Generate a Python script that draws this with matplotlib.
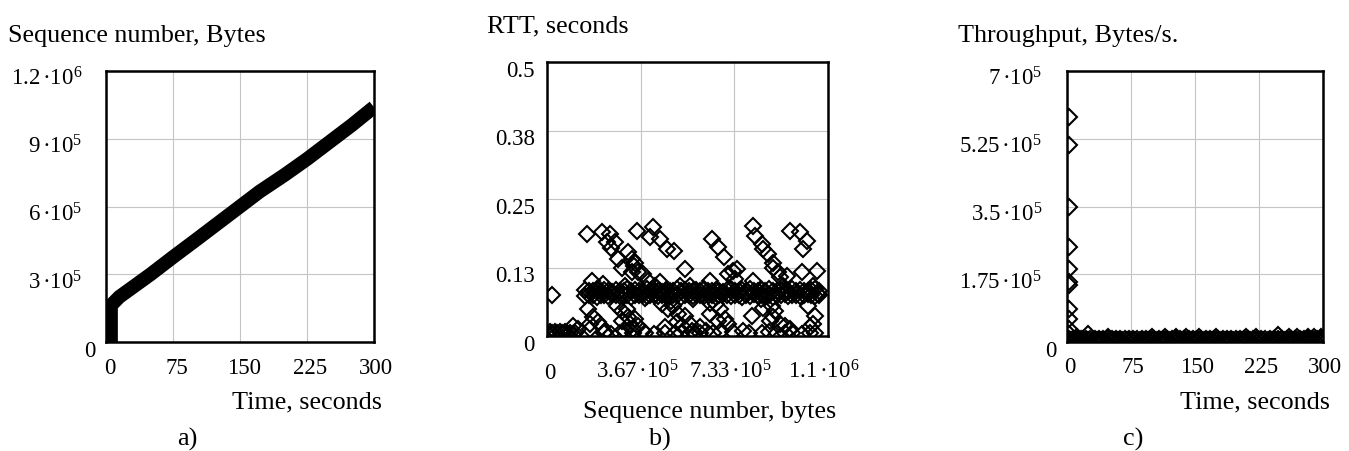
import numpy as np
import matplotlib
matplotlib.use("Agg")
from matplotlib import pyplot as plt

plt.rcParams['font.family'] = ['Liberation Serif', 'DejaVu Serif']
plt.rcParams['mathtext.fontset'] = 'custom'
plt.rcParams['mathtext.rm'] = 'Liberation Serif'
plt.rcParams['mathtext.it'] = 'Liberation Serif:italic'
plt.rcParams['mathtext.bf'] = 'Liberation Serif:bold'

# ---- a) sequence number vs time ----
time_a = [5.5, 5.5, 15, 50, 75, 100, 125, 150, 172, 200, 225, 250, 275, 300]
seq_a = [-5e4, 1.62e5, 2.0e5, 3.0e5, 3.76e5, 4.5e5, 5.25e5, 6.0e5, 6.66e5, 7.4e5, 8.1e5,
         8.85e5, 9.6e5, 1.04e6]

# ---- b) RTT vs sequence number (x in kB) ----
spr_x = [155, 214, 247, 234, 266, 279, 318, 332, 292, 175, 220, 18, 162, 181, 168, 201,
         214, 227, 273, 292, 312, 318, 292, 325, 305, 338, 103, 168, 252, 304, 339, 334,
         351, 416, 442, 403, 469, 498, 540, 645, 668, 694, 710, 729, 345, 357, 377, 397,
         423, 449, 475, 495, 514, 540, 508, 527, 560, 462, 567, 599, 638, 677, 671, 697,
         710, 345, 357, 377, 382, 441, 487, 519, 559, 572, 637, 637, 663, 735,
         808, 814, 841, 847, 866, 886, 886, 906, 912, 938, 951, 990, 1017, 1003, 743, 997,
         1056, 808, 1043, 1062, 1023, 1049, 1043, 1030, 847, 880, 893, 886, 801, 873, 912,
         932, 951, 924, 839]
spr_y = [0.186, 0.190, 0.186, 0.171, 0.171, 0.141, 0.153, 0.141, 0.125, 0.101, 0.095, 0.074,
         0.049, 0.034, 0.022, 0.025, 0.016, 0.007, 0.055, 0.046, 0.049, 0.034, 0.028, 0.022,
         0.010, 0.013, 0.019, 0.013, 0.160, 0.091, 0.128, 0.116,
         0.192, 0.198, 0.177, 0.180, 0.159, 0.156, 0.122, 0.177, 0.162, 0.144, 0.113, 0.119,
         0.134, 0.116, 0.113, 0.101, 0.092, 0.058, 0.049, 0.055, 0.040, 0.037, 0.025, 0.019,
         0.022, 0.016, 0.010, 0.016, 0.040, 0.049, 0.028, 0.031, 0.022, 0.031, 0.019, 0.010,
         0.070, 0.098, 0.064, 0.091, 0.091, 0.067, 0.101, 0.061, 0.058, 0.104,
         0.201, 0.183, 0.168, 0.159, 0.150, 0.134, 0.125, 0.116, 0.107, 0.110, 0.192, 0.189,
         0.174, 0.159, 0.122, 0.116, 0.119, 0.101, 0.092, 0.077, 0.055, 0.037, 0.022, 0.016,
         0.052, 0.055, 0.046, 0.034, 0.037, 0.028, 0.022, 0.019, 0.013, 0.091, 0.067]

band_x = [150, 165, 180, 195, 210, 225, 240, 255, 270, 285, 300, 315, 330, 345, 360, 375,
          390, 405, 420, 435, 450, 465, 480, 495, 510, 525, 540, 555, 570, 585, 600, 615,
          630, 645, 660, 675, 690, 705, 720, 735, 750, 765, 780, 795, 810, 825, 840, 855,
          870, 885, 900, 915, 930, 945, 960, 975, 990, 1005, 1020, 1035, 1050, 1065]
band_lo = [0.073, 0.075, 0.074, 0.072, 0.075, 0.074, 0.073, 0.076, 0.074, 0.073,
           0.075, 0.074, 0.072, 0.075, 0.074, 0.076, 0.073, 0.074, 0.075, 0.073,
           0.074, 0.076, 0.073, 0.075, 0.074, 0.072, 0.075, 0.074, 0.073, 0.076,
           0.074, 0.073, 0.075, 0.074, 0.072, 0.075, 0.076, 0.074, 0.073, 0.075,
           0.074, 0.072, 0.075, 0.073, 0.076, 0.074, 0.075, 0.073, 0.074, 0.072,
           0.075, 0.074, 0.076, 0.073, 0.074, 0.075, 0.073, 0.074, 0.076, 0.074,
           0.073, 0.075]
band_hi = [0.084, 0.082, 0.083, 0.085, 0.082, 0.084, 0.083, 0.081, 0.084, 0.083,
           0.082, 0.085, 0.083, 0.084, 0.082, 0.083, 0.085, 0.082, 0.084, 0.083,
           0.081, 0.084, 0.083, 0.082, 0.085, 0.083, 0.084, 0.082, 0.083, 0.084,
           0.082, 0.085, 0.083, 0.082, 0.084, 0.083, 0.081, 0.084, 0.085, 0.082,
           0.083, 0.084, 0.082, 0.085, 0.083, 0.082, 0.084, 0.083, 0.085, 0.082,
           0.083, 0.084, 0.082, 0.083, 0.085, 0.082, 0.084, 0.083, 0.082, 0.084,
           0.085, 0.083]

floor_x = [0, 10, 20, 30, 40, 50, 60, 70, 80, 90, 100, 110, 120, 222, 250, 285, 337, 382,
           420, 460, 500, 526, 560, 580, 600, 624, 650, 683, 728, 767, 790, 840, 870, 900,
           930, 960, 1000, 1030, 1050]
floor_y = [0.006, 0.008, 0.005, 0.007, 0.006, 0.008, 0.005, 0.007, 0.006, 0.005,
           0.004, 0.006, 0.012, 0.006, 0.004, 0.006, 0.006, 0.006, 0.004, 0.005,
           0.006, 0.005, 0.004, 0.006, 0.005, 0.009, 0.005, 0.009, 0.007, 0.009,
           0.005, 0.006, 0.007, 0.005, 0.006, 0.005, 0.004, 0.006, 0.005]

# ---- c) throughput vs time ----
spike_t = [2, 2, 2, 2, 2, 2, 2, 2, 2, 2, 2]
spike_y = [5.81e5, 5.08e5, 3.49e5, 2.45e5, 1.89e5, 1.55e5, 1.48e5, 8.6e4, 6.0e4, 3.4e4, 2.0e4]
base_t = [0, 5, 10, 15, 20, 25, 30, 35, 40, 45, 50, 55, 60, 65, 70, 75, 80, 85, 90, 95,
          100, 105, 110, 115, 120, 125, 130, 135, 140, 145, 150, 155, 160, 165, 170, 175,
          180, 185, 190, 195, 200, 205, 210, 215, 220, 225, 230, 235, 240, 245, 250, 255,
          260, 265, 270, 275, 280, 285, 290, 295, 300]
base_y = [5e3, 6e3, 4e3, 7e3, 5e3, 6e3, 4e3, 5e3, 6e3, 5e3, 4e3, 6e3, 5e3, 4e3, 5e3, 6e3,
          4e3, 5e3, 4e3, 6e3, 5e3, 4e3, 5e3, 6e3, 4e3, 5e3, 6e3, 5e3, 4e3, 6e3, 5e3, 4e3,
          5e3, 6e3, 4e3, 5e3, 4e3, 6e3, 5e3, 4e3, 5e3, 6e3, 4e3, 5e3, 6e3, 5e3, 4e3, 5e3,
          6e3, 5e3, 4e3, 6e3, 5e3, 4e3, 6e3, 5e3, 4e3, 6e3, 5e3, 6e3, 5e3]
base2_t = [2.5, 7.5, 12.5, 17.5, 22.5, 27.5, 32.5, 37.5, 42.5, 47.5, 52.5, 57.5, 62.5, 67.5,
           72.5, 77.5, 82.5, 87.5, 92.5, 97.5, 102.5, 107.5, 112.5, 117.5, 122.5, 127.5,
           132.5, 137.5, 142.5, 147.5, 152.5, 157.5, 162.5, 167.5, 172.5, 177.5, 182.5,
           187.5, 192.5, 197.5, 202.5, 207.5, 212.5, 217.5, 222.5, 227.5, 232.5, 237.5,
           242.5, 247.5, 252.5, 257.5, 262.5, 267.5, 272.5, 277.5, 282.5, 287.5, 292.5,
           297.5]
base2_y = [8e3, 7e3, 9e3, 8e3, 7e3, 8e3, 9e3, 7e3, 8e3, 8e3, 9e3, 7e3, 8e3, 9e3, 8e3,
           7e3, 8e3, 9e3, 7e3, 8e3, 8e3, 9e3, 7e3, 8e3, 9e3, 8e3, 7e3, 8e3, 9e3, 8e3,
           7e3, 8e3, 9e3, 7e3, 8e3, 8e3, 9e3, 7e3, 8e3, 9e3, 8e3, 7e3, 8e3, 9e3, 8e3,
           7e3, 8e3, 9e3, 7e3, 8e3, 8e3, 9e3, 7e3, 8e3, 9e3, 8e3, 7e3, 8e3, 9e3, 8e3]
bump_t = [12, 25, 48, 100, 115, 128, 140, 155, 175, 210, 222, 247, 260, 270, 282, 290, 298]
bump_y = [1.4e4, 2.0e4, 1.3e4, 1.2e4, 1.3e4, 1.2e4, 1.3e4, 1.3e4, 1.2e4, 1.3e4, 1.4e4,
          1.9e4, 1.3e4, 1.3e4, 1.4e4, 1.4e4, 1.3e4]

a_xticks = [0, 75, 150, 225, 300]
a_yticks = [0, 3e5, 6e5, 9e5, 1.2e6]
a_ylabels = ["0", r"$3\,·10^{5}$", r"$6\,·10^{5}$", r"$9\,·10^{5}$", r"$1.2\,·10^{6}$"]
b_xticks = [0, 3.67e5, 7.33e5, 1.1e6]
b_xlabels = ["0", r"$3.67\,·10^{5}$", r"$7.33\,·10^{5}$", r"$1.1\,·10^{6}$"]
b_yticks = [0, 0.125, 0.25, 0.375, 0.5]
b_ylabels = ["0", "0.13", "0.25", "0.38", "0.5"]
c_xticks = [0, 75, 150, 225, 300]
c_yticks = [0, 1.75e5, 3.5e5, 5.25e5, 7e5]
c_ylabels = ["0", r"$1.75\,·10^{5}$", r"$3.5\,·10^{5}$", r"$5.25\,·10^{5}$", r"$7\,·10^{5}$"]

W, H = 1349, 452
TICK = 16.5
TITLE = 18.8

fig = plt.figure(figsize=(W / 100, H / 100), dpi=100)


def box(l, t, r, b):
    return fig.add_axes([l / W, 1 - b / H, (r - l) / W, (b - t) / H])


def ftext(x, y, s, **kw):
    fig.text(x / W, 1 - y / H, s, fontsize=TITLE, va='baseline', **kw)


def frame(ax, xt, yt, xl, yl, xlab, ylab, xdy, xdx, ypad):
    ax.set_xlim(*xl)
    ax.set_ylim(*yl)
    ax.set_xticks(xt)
    ax.set_yticks(yt)
    ax.tick_params(length=0, labelbottom=False, labelleft=False)
    ax.grid(True, color='#c4c4c4', lw=0.8)
    ax.set_axisbelow(True)
    for sp in ax.spines.values():
        sp.set_linewidth(1.8)
        sp.set_zorder(5)
    for v, s, dx in zip(xt, xlab, xdx):
        ax.annotate(s, xy=(v, 0), xycoords=('data', 'axes fraction'), xytext=(dx, -xdy),
                    textcoords='offset pixels', ha='center', va='baseline', fontsize=TICK,
                    annotation_clip=False)
    for v, s, p in zip(yt, ylab, ypad):
        ax.annotate(s, xy=(0, v), xycoords=('axes fraction', 'data'), xytext=(-p, -14),
                    textcoords='offset pixels', ha='right', va='baseline', fontsize=TICK,
                    annotation_clip=False)


mk = dict(ls='none', marker='D', ms=7.8, mfc='none', mec='black', mew=1.5)

# a)
ax1 = box(106, 72, 374, 343)
ax1.plot(time_a, seq_a, color='black', lw=10, solid_joinstyle='miter', solid_capstyle='butt')
frame(ax1, a_xticks, a_yticks, (0, 300), (0, 1.2e6), [str(v) for v in a_xticks], a_ylabels,
      31, [4, 4, 4, 3, 2], [11, 24, 24, 24, 24])
ftext(8, 42, "Sequence number, Bytes", ha='left')
ftext(382, 408, "Time, seconds", ha='right')
ftext(187, 446, "a)", ha='center')

# b)
ax2 = box(547, 63, 828, 337)
ax2.plot(np.array(band_x) * 1e3, band_lo, **mk)
ax2.plot(np.array(band_x) * 1e3, band_hi, **mk)
ax2.plot(np.array(floor_x) * 1e3, floor_y, **mk)
ax2.plot(np.array(spr_x) * 1e3, spr_y, **mk)
frame(ax2, b_xticks, b_yticks, (0, 1.1e6), (0, 0.5), b_xlabels, b_ylabels,
      42, [3, -3, -4, -4], [12, 12, 12, 12, 12])
ftext(487, 32, "RTT, seconds", ha='left')
ftext(710, 418, "Sequence number, bytes", ha='center')
ftext(660, 446, "b)", ha='center')

# c)
ax3 = box(1067, 72, 1323, 343)
ax3.plot(base_t, base_y, **mk)
ax3.plot(base2_t, base2_y, **mk)
ax3.plot(bump_t, bump_y, **mk)
ax3.plot(spike_t, spike_y, **mk)
frame(ax3, c_xticks, c_yticks, (0, 300), (0, 7e5), [str(v) for v in c_xticks], c_ylabels,
      30, [3, 2, 2, 2, 2], [10, 25, 25, 25, 25])
ftext(958, 42, "Throughput, Bytes/s.", ha='left')
ftext(1330, 408, "Time, seconds", ha='right')
ftext(1133, 446, "c)", ha='center')

fig.savefig("out.png", dpi=100)
